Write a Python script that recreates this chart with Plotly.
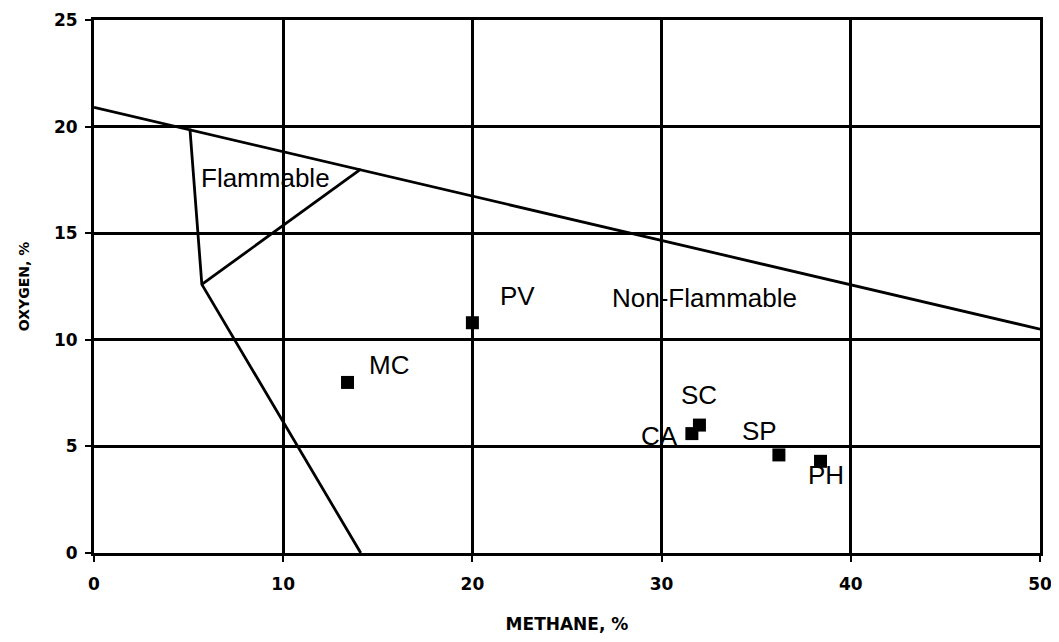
import plotly.graph_objects as go

# Upper (non-flammable) limit line
upper_x = [0, 50]
upper_y = [20.9, 10.5]

# Flammable envelope (left/lower boundary)
env_x = [5.07, 5.7, 14.1]
env_y = [19.9, 12.6, 0.0]

# Nose line (upper boundary of flammable region)
nose_x = [5.7, 14.1]
nose_y = [12.6, 18.0]

# Sample points
sample_names = ["PV", "MC", "SC", "CA", "SP", "PH"]
methane = [20.0, 13.4, 32.0, 31.6, 36.2, 38.4]
oxygen = [10.8, 8.0, 6.0, 5.6, 4.6, 4.3]

# Label positions (data coordinates)
label_x = [22.4, 15.6, 32.0, 29.9, 35.2, 38.7]
label_y = [12.05, 8.8, 7.4, 5.5, 5.7, 3.65]

region_labels = ["Flammable", "Non-Flammable"]
region_x = [9.05, 32.25]
region_y = [17.6, 11.95]

x_ticks = [0, 10, 20, 30, 40, 50]
y_ticks = [0, 5, 10, 15, 20, 25]

line_style = dict(color="black", width=2.8)

fig = go.Figure()
fig.add_trace(go.Scatter(x=upper_x, y=upper_y, mode="lines", line=line_style,
                         showlegend=False, hoverinfo="skip"))
fig.add_trace(go.Scatter(x=env_x, y=env_y, mode="lines", line=line_style,
                         showlegend=False, hoverinfo="skip"))
fig.add_trace(go.Scatter(x=nose_x, y=nose_y, mode="lines", line=line_style,
                         showlegend=False, hoverinfo="skip"))
fig.add_trace(go.Scatter(x=methane, y=oxygen, mode="markers", text=sample_names,
                         marker=dict(symbol="square", size=13, color="black"),
                         showlegend=False))

label_font = dict(family="Liberation Sans, Arial, sans-serif", size=26, color="black")
for name, lx, ly in zip(sample_names, label_x, label_y):
    fig.add_annotation(x=lx, y=ly, text=name, showarrow=False, font=label_font,
                       xanchor="center", yanchor="middle")
for name, lx, ly in zip(region_labels, region_x, region_y):
    fig.add_annotation(x=lx, y=ly, text=name, showarrow=False, font=label_font,
                       xanchor="center", yanchor="middle")

tick_font = dict(family="DejaVu Sans, sans-serif", size=17, color="black", weight="bold")
title_font_x = dict(family="DejaVu Sans, sans-serif", size=17, color="black", weight="bold")
title_font_y = dict(family="DejaVu Sans, sans-serif", size=14, color="black", weight="bold")

fig.update_xaxes(range=[0, 50], tickvals=x_ticks, showgrid=True, gridcolor="black",
                 gridwidth=2.5, showline=True, linecolor="black", linewidth=3, mirror=True,
                 ticks="outside", ticklen=6, tickwidth=2, tickcolor="black",
                 zeroline=False, tickfont=tick_font, ticklabelstandoff=8, automargin=False,
                 ticklabeloverflow="allow",
                 title=dict(text="METHANE, %", font=title_font_x, standoff=26))
fig.update_yaxes(range=[0, 25], tickvals=y_ticks, showgrid=True, gridcolor="black",
                 gridwidth=2.5, showline=True, linecolor="black", linewidth=3, mirror=True,
                 ticks="outside", ticklen=6, tickwidth=2, tickcolor="black",
                 zeroline=False, tickfont=tick_font, ticklabelstandoff=4, automargin=False,
                 ticklabeloverflow="allow",
                 title=dict(text="OXYGEN, %", font=title_font_y, standoff=22))

fig.update_layout(width=1043, height=626, plot_bgcolor="white", paper_bgcolor="white",
                  margin=dict(l=86, r=11, t=12, b=81), showlegend=False)

fig.write_html("out.html")
